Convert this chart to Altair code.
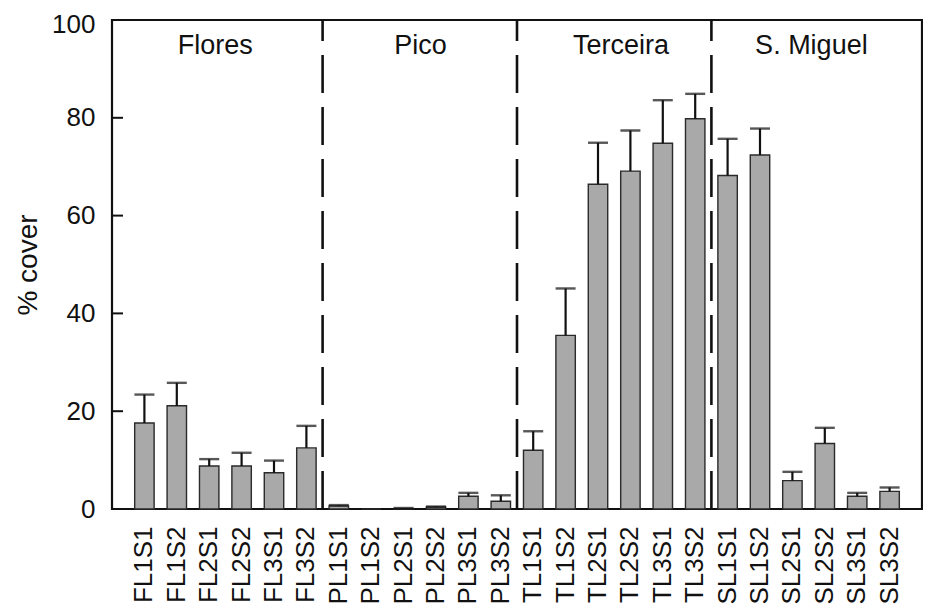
import altair as alt
import pandas as pd

samples = ["FL1S1", "FL1S2", "FL2S1", "FL2S2", "FL3S1", "FL3S2",
           "PL1S1", "PL1S2", "PL2S1", "PL2S2", "PL3S1", "PL3S2",
           "TL1S1", "TL1S2", "TL2S1", "TL2S2", "TL3S1", "TL3S2",
           "SL1S1", "SL1S2", "SL2S1", "SL2S2", "SL3S1", "SL3S2"]
cover = [17.6, 21.1, 8.8, 8.8, 7.4, 12.5,
         0.6, 0.0, 0.1, 0.4, 2.6, 1.6,
         12.0, 35.5, 66.4, 69.1, 74.8, 79.8,
         68.2, 72.4, 5.8, 13.4, 2.6, 3.6]
se = [5.8, 4.7, 1.4, 2.7, 2.5, 4.5,
      0.2, 0.0, 0.1, 0.1, 0.7, 1.2,
      3.9, 9.6, 8.5, 8.3, 8.8, 5.1,
      7.5, 5.4, 1.8, 3.2, 0.7, 0.8]

islands = ["Flores", "Pico", "Terceira", "S. Miguel"]
island_anchor = ["FL2S1", "PL2S1", "TL2S1", "SL2S1"]
island_first = ["PL1S1", "TL1S1", "SL1S1"]
y_ticks = [0, 20, 40, 60, 80, 100]
inner_ticks = [20, 40, 60, 80]

FONT = "Liberation Sans"
W, H = 810, 489
STEP = W / 25.0

df = pd.DataFrame({"sample": samples, "cover": cover, "se": se})
df["upper"] = df["cover"] + df["se"]
err_df = df[df["se"] > 0]

xenc = alt.X(
    "sample:N",
    scale=alt.Scale(domain=samples, paddingInner=0.4, paddingOuter=0.7),
    axis=alt.Axis(
        title=None, labelAngle=270, labelAlign="right", labelBaseline="middle",
        labelPadding=17, labelFontSize=26, labelFont=FONT, labelColor="#111",
        ticks=False, domain=False, grid=False,
    ),
)
yscale = alt.Scale(domain=[0, 100], nice=False, zero=True)

bars = alt.Chart(df).mark_bar(
    fill="#a9a9a9", stroke="#2a2a2a", strokeWidth=1.4
).encode(
    x=xenc,
    y=alt.Y(
        "cover:Q", scale=yscale,
        axis=alt.Axis(
            title="% cover", values=y_ticks, ticks=False, domain=False, grid=False,
            labelPadding=17, labelFontSize=26, labelFont=FONT, labelColor="#111",
            labelOffset={"condition": {"test": "datum.value == 100", "value": 4}, "value": 0},
            titleFont=FONT, titleFontSize=28, titleFontWeight="normal",
            titleColor="#111", titleAngle=270, titleAlign="center",
            titleBaseline="alphabetic", titleX=-76, titleY=H / 2,
        ),
    ),
)

err_rule = alt.Chart(err_df).mark_rule(color="#111", strokeWidth=2.2).encode(
    x=xenc, y=alt.Y("cover:Q", scale=yscale), y2="upper:Q"
)
err_cap = alt.Chart(err_df).mark_tick(
    color="#111", thickness=2.4, size=20, orient="horizontal"
).encode(x=xenc, y=alt.Y("upper:Q", scale=yscale))

dividers = alt.Chart(pd.DataFrame({"sample": island_first})).mark_rule(
    color="#111", strokeWidth=2.6, strokeDash=[38, 14], xOffset=-STEP / 2
).encode(x=xenc, y=alt.value(H), y2=alt.value(0))

ticks = alt.Chart(pd.DataFrame({"v": inner_ticks})).mark_rule(
    color="#111", strokeWidth=2
).encode(y=alt.Y("v:Q", scale=yscale), x=alt.value(0), x2=alt.value(11))

label_dx = [6, 17, 23, 19]
labels = []
for name, anchor, dx in zip(islands, island_anchor, label_dx):
    labels.append(
        alt.Chart(pd.DataFrame({"sample": [anchor], "name": [name]})).mark_text(
            font=FONT, fontSize=27, color="#111", align="center",
            baseline="alphabetic", dx=dx
        ).encode(x=xenc, y=alt.value(34), text="name:N")
    )

chart = alt.layer(bars, err_rule, err_cap, dividers, ticks, *labels).properties(
    width=W, height=H,
    autosize=alt.AutoSizeParams(type="none"),
    padding={"left": 104, "top": 12, "right": 1, "bottom": 95},
    background="white",
).configure_view(stroke="#111", strokeWidth=2.2)

chart.save("out.html", embed_options={"renderer": "svg", "actions": False})
